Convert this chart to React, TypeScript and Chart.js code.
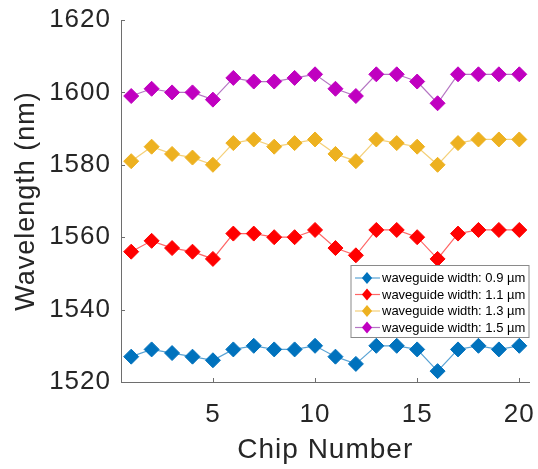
import React, { useEffect, useRef } from "react";
import { Chart, registerables } from "chart.js";

Chart.register(...registerables);

const chipNumbers = [1, 2, 3, 4, 5, 6, 7, 8, 9, 10, 11, 12, 13, 14, 15, 16, 17, 18, 19, 20];
const width09 = [1527, 1529, 1528, 1527, 1526, 1529, 1530, 1529, 1529, 1530, 1527, 1525, 1530, 1530, 1529, 1523, 1529, 1530, 1529, 1530];
const width11 = [1556, 1559, 1557, 1556, 1554, 1561, 1561, 1560, 1560, 1562, 1557, 1555, 1562, 1562, 1560, 1554, 1561, 1562, 1562, 1562];
const width13 = [1581, 1585, 1583, 1582, 1580, 1586, 1587, 1585, 1586, 1587, 1583, 1581, 1587, 1586, 1585, 1580, 1586, 1587, 1587, 1587];
const width15 = [1599, 1601, 1600, 1600, 1598, 1604, 1603, 1603, 1604, 1605, 1601, 1599, 1605, 1605, 1603, 1597, 1605, 1605, 1605, 1605];

const seriesLabels = [
  "waveguide width: 0.9 µm",
  "waveguide width: 1.1 µm",
  "waveguide width: 1.3 µm",
  "waveguide width: 1.5 µm",
];
const markerColors = ["#0072BD", "#FF0000", "#EDB120", "#C000C0"];
const lineColors = ["rgba(0,114,189,0.65)", "rgba(255,0,0,0.6)", "rgba(237,177,32,0.6)", "rgba(150,60,170,0.7)"];
const xTicks = [5, 10, 15, 20];
const yMin = 1520;
const yMax = 1620;
const yStep = 20;

const FONT = "'Liberation Sans', Arial, Helvetica, sans-serif";

const spacing = {
  id: "spacing",
  beforeDraw(chart: any) {
    try {
      chart.ctx.letterSpacing = "1px";
    } catch (e) {}
  },
};

const inwardTicks = {
  id: "inwardTicks",
  afterDraw(chart: any) {
    const { ctx, chartArea, scales } = chart;
    ctx.save();
    ctx.strokeStyle = "#6e6e6e";
    ctx.lineWidth = 1;
    const len = 4;
    scales.x.ticks.forEach((t: any) => {
      const px = Math.round(scales.x.getPixelForValue(t.value)) + 0.5;
      ctx.beginPath();
      ctx.moveTo(px, chartArea.bottom);
      ctx.lineTo(px, chartArea.bottom - len);
      ctx.stroke();
    });
    scales.y.ticks.forEach((t: any) => {
      const py = Math.round(scales.y.getPixelForValue(t.value)) + 0.5;
      ctx.beginPath();
      ctx.moveTo(chartArea.left, py);
      ctx.lineTo(chartArea.left + len, py);
      ctx.stroke();
    });
    ctx.restore();
  },
};

const boxLegend = {
  id: "boxLegend",
  afterDraw(chart: any) {
    const { ctx, chartArea } = chart;
    const w = 178;
    const h = 72;
    const x0 = chartArea.right - w - 0.5;
    const y0 = 265.5;
    ctx.save();
    try {
      ctx.letterSpacing = "0px";
    } catch (e) {}
    ctx.fillStyle = "#ffffff";
    ctx.fillRect(x0, y0, w, h);
    ctx.strokeStyle = "#8a8a8a";
    ctx.lineWidth = 1;
    ctx.strokeRect(x0, y0, w, h);
    const rowH = 16.5;
    chart.data.datasets.forEach((ds: any, i: number) => {
      const cy = y0 + 12.5 + i * rowH;
      ctx.strokeStyle = ds.borderColor;
      ctx.lineWidth = 1.2;
      ctx.beginPath();
      ctx.moveTo(x0 + 4, cy);
      ctx.lineTo(x0 + 29, cy);
      ctx.stroke();
      const cx = x0 + 16;
      const r = 6;
      ctx.fillStyle = ds.pointBackgroundColor;
      ctx.beginPath();
      ctx.moveTo(cx, cy - r);
      ctx.lineTo(cx + r * 0.85, cy);
      ctx.lineTo(cx, cy + r);
      ctx.lineTo(cx - r * 0.85, cy);
      ctx.closePath();
      ctx.fill();
      ctx.fillStyle = "#000000";
      ctx.font = `13px ${FONT}`;
      ctx.textAlign = "left";
      ctx.textBaseline = "middle";
      ctx.fillText(ds.label, x0 + 31, cy + 0.5);
    });
    ctx.restore();
  },
};

export default function App() {
  const canvasRef = useRef<HTMLCanvasElement>(null);

  useEffect(() => {
    document.body.style.margin = "0";
    const seriesValues = [width09, width11, width13, width15];
    const chart = new Chart(canvasRef.current as HTMLCanvasElement, {
      type: "line",
      data: {
        datasets: seriesValues.map((vals, i) => ({
          label: seriesLabels[i],
          data: chipNumbers.map((c, j) => ({ x: c, y: vals[j] })),
          borderColor: lineColors[i],
          borderWidth: 1.2,
          pointStyle: "rectRot",
          pointRadius: 7.5,
          pointBackgroundColor: markerColors[i],
          pointBorderColor: markerColors[i],
          pointBorderWidth: 1,
          fill: false,
          tension: 0,
        })),
      },
      options: {
        responsive: false,
        animation: false,
        layout: { padding: { top: 20, right: 7, left: 0, bottom: 0 } },
        plugins: {
          legend: { display: false },
          tooltip: { enabled: false },
        },
        scales: {
          x: {
            type: "linear",
            min: 0.5,
            max: 20.5,
            afterBuildTicks: (scale: any) => {
              scale.ticks = xTicks.map((v) => ({ value: v }));
            },
            afterFit: (scale: any) => {
              scale.height = 87;
              scale.paddingLeft = 0;
              scale.paddingRight = 0;
            },
            grid: { display: false, drawTicks: false },
            border: { display: true, color: "#6e6e6e", width: 1 },
            ticks: {
              color: "#262626",
              font: { family: FONT, size: 26 },
              padding: 17,
              maxRotation: 0,
              autoSkip: false,
              callback: (v: any) => String(v),
            },
            title: {
              display: true,
              text: "Chip Number",
              color: "#262626",
              font: { family: FONT, size: 28 },
              padding: { top: 0, bottom: 2 },
            },
          },
          y: {
            type: "linear",
            min: yMin,
            max: yMax,
            afterFit: (scale: any) => {
              scale.width = 121;
              scale.paddingTop = 0;
              scale.paddingBottom = 0;
            },
            grid: { display: false, drawTicks: false },
            border: { display: true, color: "#6e6e6e", width: 1 },
            ticks: {
              stepSize: yStep,
              color: "#262626",
              font: { family: FONT, size: 26 },
              padding: 10,
              callback: (v: any) => String(v),
            },
            title: {
              display: true,
              text: "Wavelength (nm)",
              color: "#262626",
              font: { family: FONT, size: 27 },
              padding: { top: 10, bottom: 0 },
            },
          },
        },
      },
      plugins: [spacing, inwardTicks, boxLegend],
    } as any);
    return () => chart.destroy();
  }, []);

  return (
    <div style={{ position: "fixed", left: 0, top: 0, width: 538, height: 469, background: "#fff" }}>
      <canvas ref={canvasRef} width={538} height={469} />
    </div>
  );
}
